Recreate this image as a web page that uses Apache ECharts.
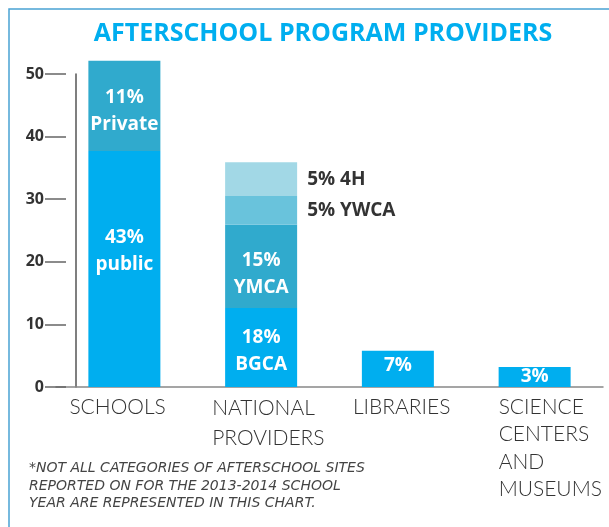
<!DOCTYPE html>
<html>
<head>
<meta charset="utf-8">
<script src="https://cdn.jsdelivr.net/npm/echarts@6/dist/echarts.min.js"></script>
<style>
  html, body { margin: 0; padding: 0; background: #fff; }
  #main { width: 609px; height: 527px; }
</style>
</head>
<body>
<div id="main"></div>
<script>
// categories along the bottom
const categories = ['SCHOOLS', 'NATIONAL\nPROVIDERS', 'LIBRARIES', 'SCIENCE\nCENTERS\nAND\nMUSEUMS'];
// y ticks
const yTicks = [0, 10, 20, 30, 40, 50];

// stacked segments (bottom to top)
const baseValues = [37.7, 12.6, 5.8, 3.2];       // public / BGCA / libraries / science
const secondValues = [14.4, 13.3, null, null];   // private / YMCA
const ywcaValues = [null, 4.6, null, null];
const fourHValues = [null, 5.4, null, null];

// segment labels
const baseLabels = ['43%\npublic', '18%\nBGCA', '7%', '3%'];
const secondLabels = ['11%\nPrivate', '15%\nYMCA', '', ''];
const ywcaLabels = ['', '5% YWCA', '', ''];
const fourHLabels = ['', '5% 4H', '', ''];

const baseShift = [-18, 4, -3, 0];
const secondShift = [5, 8, 0, 0];

const myChart = echarts.init(document.getElementById('main'));

const insideLabel = {
  show: true,
  position: 'inside',
  color: '#fff',
  fontFamily: 'Open Sans',
  fontWeight: 'bold',
  fontSize: 19,
  lineHeight: 27
};

const outsideLabel = {
  show: true,
  position: 'right',
  distance: 10,
  color: '#333',
  fontFamily: 'Open Sans',
  fontWeight: 'bold',
  fontSize: 19
};

function buildData(values, labels, shifts) {
  return values.map((v, i) => ({
    value: v == null ? '-' : v,
    label: { formatter: labels[i], offset: [0, shifts ? shifts[i] : 0] }
  }));
}

// left-aligned multi-line category labels
const labelWidths = [110, 98, 90, 72];
const catFont = { align: 'left', color: '#333', fontFamily: 'Lato', fontWeight: 300, fontSize: 21 };

const option = {
  animation: false,
  title: [
    {
      text: 'AFTERSCHOOL PROGRAM PROVIDERS',
      left: 318,
      top: 16,
      textAlign: 'center',
      textStyle: {
        color: '#00aeef',
        fontFamily: 'Open Sans',
        fontWeight: 'bold',
        fontSize: 25
      }
    },
    {
      text: '*NOT ALL CATEGORIES OF AFTERSCHOOL SITES\nREPORTED ON FOR THE 2013-2014 SCHOOL\nYEAR ARE REPRESENTED IN THIS CHART.',
      left: 29,
      top: 460,
      padding: 0,
      textStyle: {
        color: '#444',
        fontFamily: 'DejaVu Sans',
        fontStyle: 'italic',
        fontWeight: 200,
        fontSize: 14,
        lineHeight: 17.5
      }
    }
  ],
  graphic: [
    {
      type: 'polyline',
      shape: { points: [[9, 527], [9, 9], [609, 9]] },
      style: { stroke: '#4aa3d4', lineWidth: 1.5, fill: null },
      silent: true
    }
  ],
  grid: {
    left: 56,
    right: 6,
    top: 74,
    bottom: 140,
    outerBoundsMode: 'none'
  },
  xAxis: {
    type: 'category',
    data: categories,
    axisLine: { show: true, lineStyle: { color: '#888', width: 1.5 } },
    axisTick: { show: false },
    axisLabel: {
      interval: 0,
      margin: 6,
      hideOverlap: false,
      formatter: function (value, idx) {
        return value.split('\n').map(l => '{c' + idx + '|' + l + '}').join('\n');
      },
      rich: {
        c0: Object.assign({ width: labelWidths[0], lineHeight: 28 }, catFont),
        c1: Object.assign({ width: labelWidths[1], lineHeight: 30 }, catFont),
        c2: Object.assign({ width: labelWidths[2], lineHeight: 28 }, catFont),
        c3: Object.assign({ width: labelWidths[3], lineHeight: 27.5 }, catFont)
      }
    }
  },
  yAxis: [
    {
      type: 'value',
      position: 'left',
      min: yTicks[0],
      max: yTicks[yTicks.length - 1],
      interval: 10,
      offset: -20,
      splitLine: { show: false },
      axisLine: { show: true, lineStyle: { color: '#555', width: 1.5 } },
      axisTick: { show: false },
      axisLabel: { show: false }
    },
    {
      type: 'value',
      position: 'left',
      min: yTicks[0],
      max: yTicks[yTicks.length - 1],
      interval: 10,
      offset: -10,
      splitLine: { show: false },
      axisLine: { show: false },
      axisTick: { show: true, length: 21, lineStyle: { color: '#666', width: 1.5 } },
      axisLabel: {
        margin: 22,
        color: '#333',
        fontFamily: 'Open Sans',
        fontWeight: 'bold',
        fontSize: 16
      }
    }
  ],
  series: [
    {
      name: 'base',
      type: 'bar',
      stack: 'total',
      barWidth: 72,
      clip: false,
      itemStyle: { color: '#00aeef' },
      label: insideLabel,
      data: buildData(baseValues, baseLabels, baseShift)
    },
    {
      name: 'second',
      type: 'bar',
      stack: 'total',
      barWidth: 72,
      clip: false,
      itemStyle: { color: '#30aacd' },
      label: insideLabel,
      data: buildData(secondValues, secondLabels, secondShift)
    },
    {
      name: 'YWCA',
      type: 'bar',
      stack: 'total',
      barWidth: 72,
      clip: false,
      itemStyle: { color: '#69c3dc' },
      label: outsideLabel,
      data: buildData(ywcaValues, ywcaLabels)
    },
    {
      name: '4H',
      type: 'bar',
      stack: 'total',
      barWidth: 72,
      clip: false,
      itemStyle: { color: '#a2d8e6' },
      label: outsideLabel,
      data: buildData(fourHValues, fourHLabels)
    }
  ]
};

myChart.setOption(option);
</script>
</body>
</html>
